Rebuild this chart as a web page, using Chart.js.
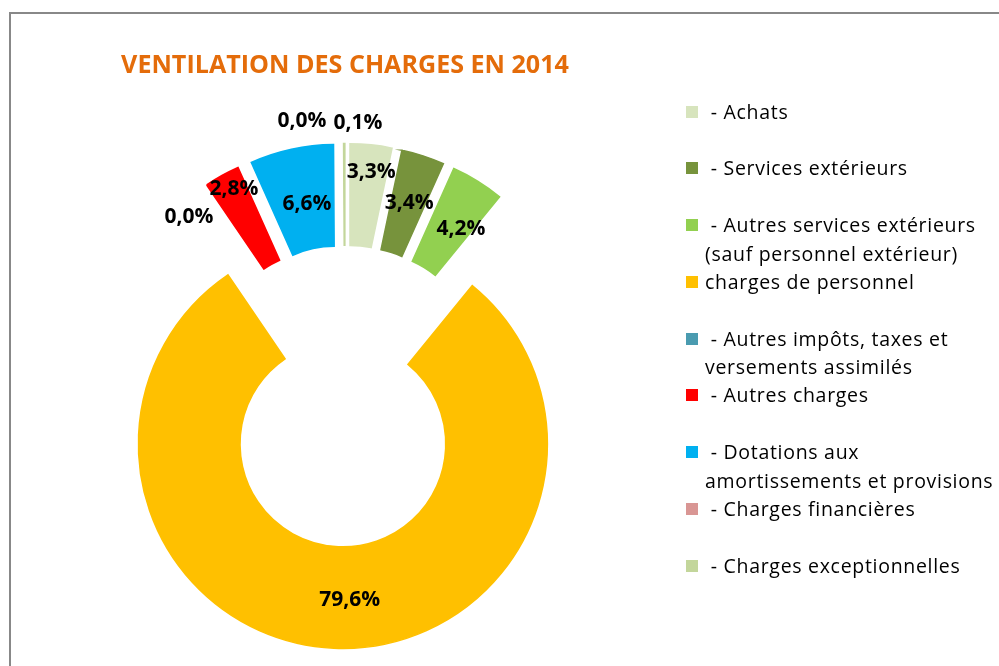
<!DOCTYPE html>
<html><head><meta charset="utf-8">
<script src="https://cdn.jsdelivr.net/npm/chart.js@4.4.1/dist/chart.umd.min.js"></script>
<style>
html,body{margin:0;padding:0;background:#fff;}
#wrap{position:relative;width:999px;height:666px;overflow:hidden;font-family:'Open Sans',sans-serif;}
#frame{position:absolute;left:9px;top:12px;width:1000px;height:700px;border-top:2px solid #888;border-left:2px solid #888;}
#c{position:absolute;left:0;top:0;}
#legend{position:absolute;left:0;top:0;width:999px;height:666px;}
.li{position:absolute;left:686px;}
.sw{position:absolute;left:0;top:8px;width:12px;height:12px;}
.tx{position:absolute;left:19px;top:0;font-size:19.5px;letter-spacing:0.7px;line-height:28.5px;white-space:pre;color:#000;}
</style></head><body>
<div id="wrap">
<div id="frame"></div>
<canvas id="c" width="999" height="666"></canvas>
<div id="legend"></div>
</div>
<script>
// ---- data ----
const categories = [
  ' - Achats',
  ' - Services extérieurs',
  [' - Autres services extérieurs', '(sauf personnel extérieur)'],
  'charges de personnel',
  [' - Autres impôts, taxes et', 'versements assimilés'],
  ' - Autres charges',
  [' - Dotations aux', 'amortissements et provisions'],
  ' - Charges financières',
  ' - Charges exceptionnelles'
];
const shares = [3.3, 3.4, 4.2, 79.6, 0.0, 2.8, 6.6, 0.0, 0.1];
const colors = ['#D7E4BD', '#77933C', '#92D050', '#FFC000', '#4A9BB0', '#FF0000', '#00B0F0', '#D99694', '#C3D69B'];
const chartTitle = 'VENTILATION DES CHARGES EN 2014';

// ---- styling / layout ----
const EXPLODE = 48;   // distance each slice is pulled out of the ring (px)
// data-label placement: [distance from exploded slice centre, angular nudge in degrees]
const labelLayout = [[177.5, 0.9], [155.3, 0.5], [155.4, 4.1], [156.2, -5.0], [189.9, -8.6], [186.9, 1.2], [147.7, 1.4], [231, -10.3], [225.4, 3.5]];

// Doughnut whose slices are each pulled out along their bisector (Excel-style explosion)
class ExplodedDoughnut extends Chart.DoughnutController {
  draw() {
    const ctx = this.chart.ctx;
    this._cachedMeta.data.forEach(el => {
      const a = (el.startAngle + el.endAngle) / 2;
      ctx.save();
      ctx.translate(Math.cos(a) * EXPLODE, Math.sin(a) * EXPLODE);
      el.draw(ctx);
      ctx.restore();
    });
  }
}
ExplodedDoughnut.id = 'explodedDoughnut';
ExplodedDoughnut.defaults = Chart.DoughnutController.defaults;
ExplodedDoughnut.overrides = Chart.DoughnutController.overrides;
Chart.register(ExplodedDoughnut);

const pctLabels = {
  id: 'pctLabels',
  afterDatasetsDraw(chart) {
    const ctx = chart.ctx;
    const meta = chart.getDatasetMeta(0);
    ctx.save();
    ctx.font = 'bold 21px "Open Sans"';
    ctx.fillStyle = '#000';
    ctx.textAlign = 'center';
    ctx.textBaseline = 'middle';
    meta.data.forEach((el, i) => {
      const a = (el.startAngle + el.endAngle) / 2;
      const ox = el.x + EXPLODE * Math.cos(a), oy = el.y + EXPLODE * Math.sin(a);
      const [rho, nudge] = labelLayout[i];
      const b = a + nudge * Math.PI / 180;
      ctx.fillText(shares[i].toFixed(1).replace('.', ',') + '%', ox + rho * Math.cos(b), oy + rho * Math.sin(b));
    });
    ctx.restore();
  }
};

const htmlLegend = {
  id: 'htmlLegend',
  afterUpdate(chart) {
    const box = document.getElementById('legend');
    box.innerHTML = '';
    chart.data.labels.forEach((lab, i) => {
      const d = document.createElement('div');
      d.className = 'li';
      d.style.top = (97.5 + 56.75 * i) + 'px';
      const s = document.createElement('span');
      s.className = 'sw';
      s.style.background = chart.data.datasets[0].backgroundColor[i];
      const t = document.createElement('div');
      t.className = 'tx';
      t.textContent = Array.isArray(lab) ? lab.join('\n') : lab;
      d.appendChild(s); d.appendChild(t);
      box.appendChild(d);
    });
  }
};

new Chart(document.getElementById('c'), {
  type: 'explodedDoughnut',
  data: {
    labels: categories,
    datasets: [{
      data: shares,
      backgroundColor: colors,
      borderColor: colors,
      borderWidth: 1.5,
      borderJoinStyle: 'miter',
      hoverOffset: 0
    }]
  },
  options: {
    responsive: false,
    animation: false,
    events: [],
    radius: 204.5,
    cutout: '50.3%',
    rotation: 0,
    layout: { padding: { left: 0, right: 309, top: 0, bottom: 0 } },
    plugins: {
      legend: { display: false },
      tooltip: { enabled: false },
      title: {
        display: true,
        text: chartTitle,
        color: '#E46C0A',
        font: { family: 'Open Sans', size: 25.1, weight: 'bold' },
        padding: { top: 51, bottom: 44.9 }
      }
    }
  },
  plugins: [pctLabels, htmlLegend]
});
</script>
</body></html>
